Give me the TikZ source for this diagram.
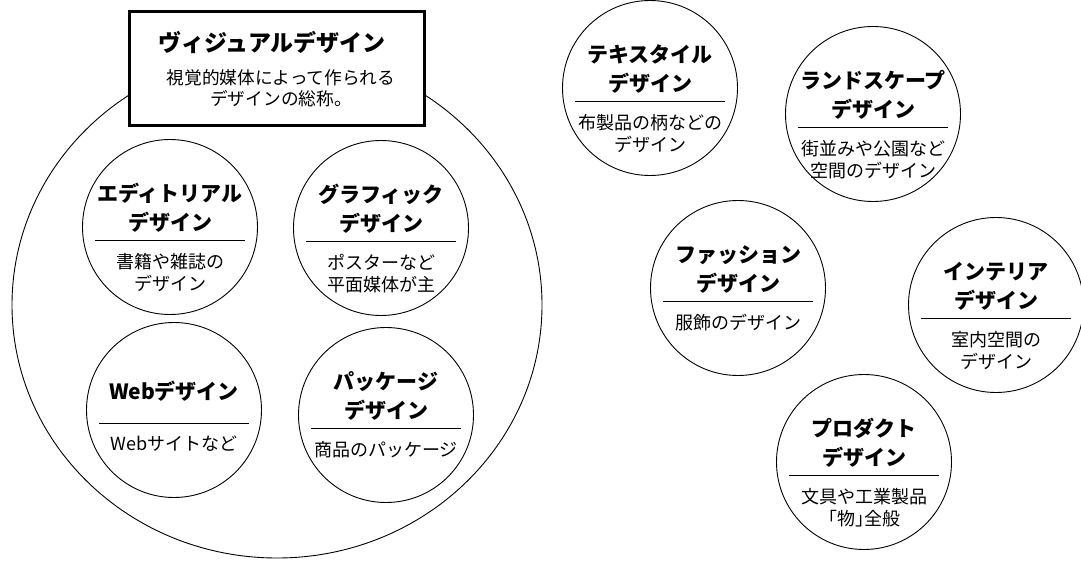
\documentclass[tikz,border=0pt]{standalone}
\usepackage{fontspec}
\setmainfont{Noto Sans CJK JP}
\usetikzlibrary{shapes.geometric}

\tikzset{
  field/.style={circle,draw,line width=0.9pt,minimum size=175pt,inner sep=0pt},
  ttl/.style={align=center,inner sep=0pt,font=\bfseries\fontsize{21}{29}\selectfont},
  sub/.style={align=center,inner sep=0pt,anchor=north,font=\fontsize{18}{22}\selectfont},
}
\newcommand{\halfbr}[1]{{\addfontfeature{RawFeature=+halt}#1}}

\begin{document}
\begin{tikzpicture}[x=1pt,y=-1pt]
  \useasboundingbox (0,0) rectangle (1081,569);
  % outer field of visual design
  \node[ellipse,draw,line width=0.9pt,minimum width=530pt,minimum height=506pt,inner sep=0pt] (visual) at (277,305) {};
  \node[draw,line width=3pt,fill=white,minimum width=295pt,minimum height=114pt,inner sep=0pt] (visbox) at (276.5,69) {};
  \node[inner sep=0pt,font=\bfseries\fontsize{23}{28}\selectfont] (vistitle) at (272,42) {ヴィジュアルデザイン};
  \node[align=center,inner sep=0pt,font=\fontsize{17.7}{20.5}\selectfont] (vissub) at (281,88) {視覚的媒体によって作られる\\デザインの総称。};
  % design fields
  \foreach \nm/\cx/\cy/\ttltext/\subtext in {
      edit/170/227/{エディトリアル\\デザイン}/{書籍や雑誌の\\デザイン},
      graphic/381/228/{グラフィック\\デザイン}/{ポスターなど\\平面媒体が主},
      web/174/410/{Webデザイン}/{Webサイトなど},
      package/386/415/{パッケージ\\デザイン}/{商品のパッケージ},
      textile/650/88/{テキスタイル\\デザイン}/{布製品の柄などの\\デザイン},
      landscape/873/114/{ランドスケープ\\デザイン}/{街並みや公園など\\空間のデザイン},
      fashion/738/288/{ファッション\\デザイン}/{服飾のデザイン},
      interior/996/305/{インテリア\\デザイン}/{室内空間の\\デザイン},
      product/864/462/{プロダクト\\デザイン}/{文具や工業製品\\\halfbr{「}物\halfbr{」}全般}} {
    \node[field] (\nm) at (\cx,\cy) {};
    \node[ttl] (\nm-t) at ([yshift=19pt]\nm.center) {\ttltext};
    \draw[line width=0.8pt] ([shift={(-75pt,-13pt)}]\nm.center) -- ([shift={(75pt,-13pt)}]\nm.center);
    \node[sub] (\nm-s) at ([yshift=-26pt]\nm.center) {\subtext};
  }
\end{tikzpicture}
\end{document}
